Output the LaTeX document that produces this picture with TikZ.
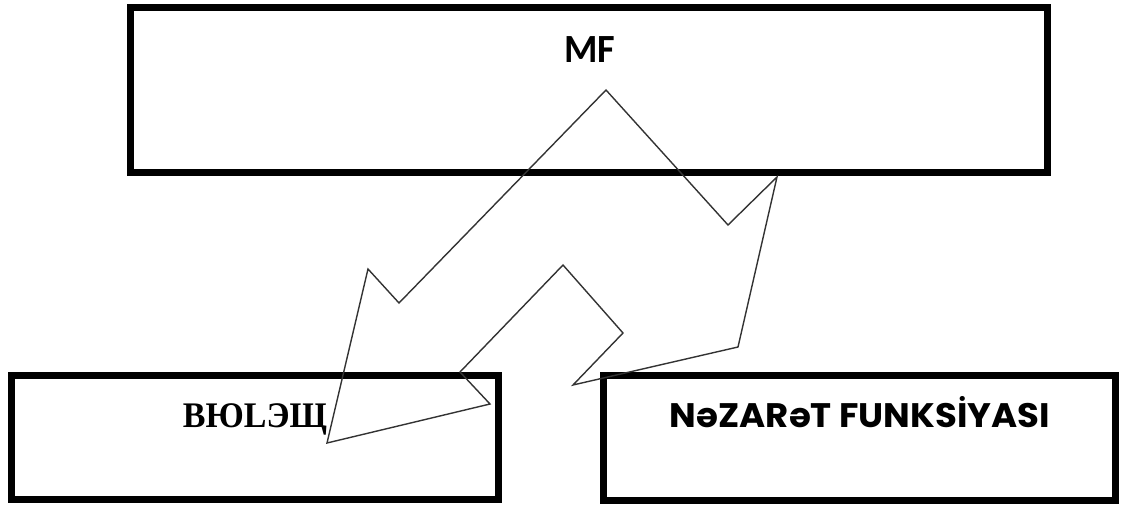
\documentclass[tikz,border=0pt]{standalone}
\usepackage{fontspec}
\usepackage{graphicx}
\setmainfont{Liberation Serif}
\newfontfamily\mfFont{Carlito}
\newfontfamily\geoFont{Poppins}
\newfontfamily\serFont{Liberation Serif}
\begin{document}
\begin{tikzpicture}[x=1pt,y=-1pt,
  boxstyle/.style={draw=black,line width=7pt,fill=none,inner sep=0pt},
  arrowstyle/.style={draw=black!80,line width=1.4pt,line join=miter},
  lbl/.style={anchor=base,inner sep=0pt,text=black}]
\useasboundingbox (0,0) rectangle (1128,508);
% boxes
\node[boxstyle,minimum width=917pt,minimum height=165pt] (mf) at (588.5,90.5) {};
\node[boxstyle,minimum width=487pt,minimum height=124pt] (bio) at (254.5,437) {};
\node[boxstyle,minimum width=512pt,minimum height=125pt] (nez) at (859,437.5) {};
% labels
\node[lbl] (mft) at (590,63) {\resizebox{51pt}{\height}{\mfFont\fontsize{40pt}{44pt}\selectfont\bfseries MF}};
\node[lbl] (biot) at (255,427) {\resizebox{144pt}{\height}{\serFont\fontsize{36pt}{40pt}\selectfont\bfseries BЮLЭЩ}};
\node[lbl] (nezt) at (860,427) {\resizebox{380pt}{\height}{\geoFont\fontsize{34pt}{38pt}\selectfont\bfseries NəZARəT FUNKSİYASI}};
% U-turn block arrow
\coordinate (p1) at (327,443);
\coordinate (p2) at (368,269);
\coordinate (p3) at (399,303);
\coordinate (p4) at (606,90);
\coordinate (p5) at (728,225);
\coordinate (p6) at (777,177);
\coordinate (p7) at (738,347);
\coordinate (p8) at (573,385);
\coordinate (p9) at (623,333);
\coordinate (p10) at (563,265);
\coordinate (p11) at (460,372);
\coordinate (p12) at (490,404);
\draw[arrowstyle] (p1) -- (p2) -- (p3) -- (p4) -- (p5) -- (p6) -- (p7) -- (p8) -- (p9) -- (p10) -- (p11) -- (p12) -- cycle;
\end{tikzpicture}
\end{document}
